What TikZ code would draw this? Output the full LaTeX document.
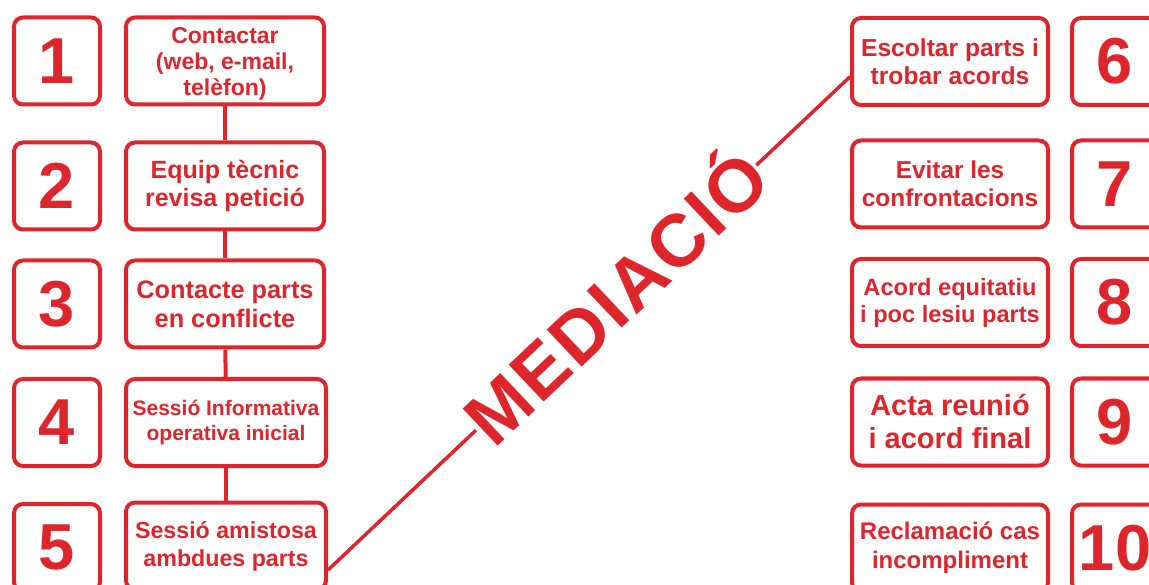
\documentclass[tikz,border=0pt]{standalone}
\usepackage{fontspec}
\setmainfont{Liberation Sans}
\usetikzlibrary{calc}
\definecolor{mred}{RGB}{222,37,43}
\newcommand\fsz[2]{\bfseries\fontsize{#1}{#2}\selectfont}
\begin{document}
\begin{tikzpicture}[x=1pt,y=-1pt,
  box/.style={draw=mred, line width=4pt, rounded corners=9pt, text=mred, align=center, inner sep=0pt},
  numbox/.style={box, minimum width=86pt, minimum height=87pt, font=\fsz{65}{70}},
  txtbox/.style={box, minimum width=198pt, minimum height=87pt},
  conn/.style={draw=mred, line width=4pt},
  diag/.style={draw=mred, line width=3.5pt}]
\useasboundingbox (0,0) rectangle (1149,585);
% left column
\node[numbox] (n1) at (57,61) {1};
\node[numbox] (n2) at (57,186) {2};
\node[numbox] (n3) at (57,304) {3};
\node[numbox] (n4) at (57,422.5) {4};
\node[numbox] (n5) at (57,547.5) {5};
\node[txtbox, font=\fsz{23}{26}, text depth=0pt] (t1) at (225,61) {Contactar\\(web, e-mail,\\telèfon)};
\node[txtbox, font=\fsz{25}{28}] (t2) at (225,186) {Equip tècnic\\revisa petició};
\node[txtbox, font=\fsz{25.3}{29}] (t3) at (225,304) {Contacte parts\\en conflicte};
\node[txtbox, font=\fsz{21}{25}, minimum width=200pt] (t4) at (226,422.5) {Sessió Informativa\\operativa inicial};
\node[txtbox, font=\fsz{23.2}{28}, minimum width=200pt] (t5) at (226,546) {Sessió amistosa\\ambdues parts};
% right column
\node[txtbox, font=\fsz{24.6}{28}, minimum width=196pt] (t6) at (950,61.5) {Escoltar parts i\\trobar acords};
\node[txtbox, font=\fsz{24.4}{28.5}, minimum width=196pt] (t7) at (950,184) {Evitar les\\confrontacions};
\node[txtbox, font=\fsz{23.6}{27}, minimum width=196pt] (t8) at (950,302.5) {Acord equitatiu\\i poc lesiu parts};
\node[txtbox, font=\fsz{29}{33}, minimum width=196pt] (t9) at (950,422) {Acta reunió\\i acord final};
\node[txtbox, font=\fsz{24}{29}, minimum width=196pt] (t10) at (950,548) {Reclamació cas\\incompliment};
\node[numbox] (n6) at (1115,61.5) {6};
\node[numbox] (n7) at (1115,184) {7};
\node[numbox] (n8) at (1115,302.5) {8};
\node[numbox] (n9) at (1115,422) {9};
\node[numbox] (n10) at (1115,548) {10};
% vertical connectors
\draw[conn] (t1) -- (t2);
\draw[conn] (t2) -- (t3);
\draw[conn] (t3) -- (t4);
\draw[conn] (t4) -- (t5);
% diagonal with MEDIACIÓ
\coordinate (p5) at ($(t5.north east)!0.764!(t5.south east)$);
\coordinate (p6) at ($(t6.north west)!0.667!(t6.south west)$);
\path (p5) -- node[sloped, pos=0.552, inner sep=0pt, text=mred, text height=53pt, text depth=0pt,
  font={\bfseries\fontsize{74}{80}\selectfont\addfontfeature{LetterSpace=3}}] (med) {MEDIACIÓ} (p6);
\draw[diag] (p5) -- (med.west);
\draw[diag] (med.east) -- (p6);
\end{tikzpicture}
\end{document}
